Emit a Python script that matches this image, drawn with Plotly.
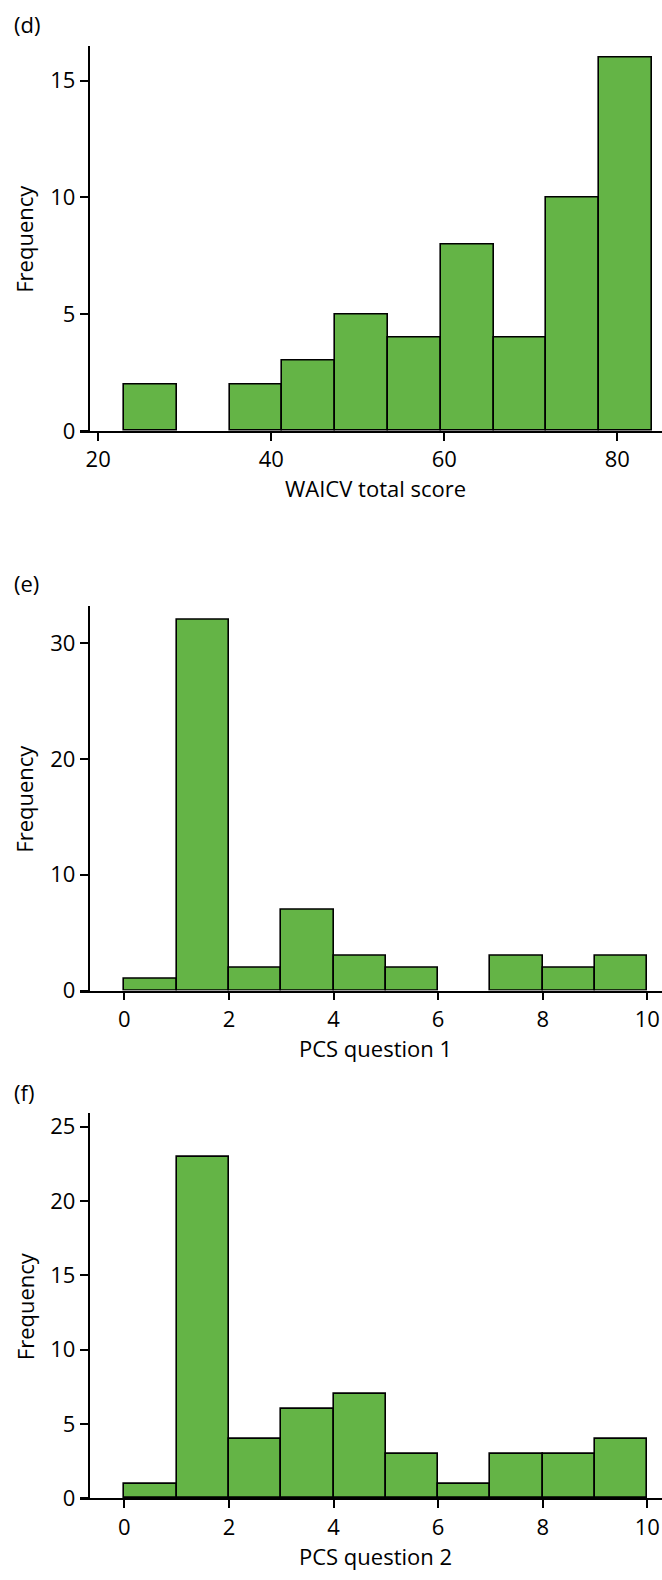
import plotly.graph_objects as go

# ---------------- data ----------------
d_edges = [23.0, 29.1, 35.2, 41.3, 47.4, 53.5, 59.6, 65.7, 71.8, 77.9, 84.0]
d_counts = [2, 0, 2, 3, 5, 4, 8, 4, 10, 16]

e_edges = [0, 1, 2, 3, 4, 5, 6, 7, 8, 9, 10]
e_counts = [1, 32, 2, 7, 3, 2, 0, 3, 2, 3]

f_edges = [0, 1, 2, 3, 4, 5, 6, 7, 8, 9, 10]
f_counts = [1, 23, 4, 6, 7, 3, 1, 3, 3, 4]

d_ticks = [20, 40, 60, 80]
d_yticks = [0, 5, 10, 15]
e_ticks = [0, 2, 4, 6, 8, 10]
e_yticks = [0, 10, 20, 30]
f_ticks = [0, 2, 4, 6, 8, 10]
f_yticks = [0, 5, 10, 15, 20, 25]

panel_labels = ["(d)", "(e)", "(f)"]
x_titles = ["WAICV total score", "PCS question 1", "PCS question 2"]
y_title = "Frequency"

# ---------------- style ----------------
W, H = 662, 1580
FONT = "Open Sans"
FS = 22
GREEN = "#64b446"

def px_x(p):
    return p / W

def px_y(p):
    return 1 - p / H

panels = [
    dict(edges=d_edges, counts=d_counts, xt=d_ticks, yt=d_yticks,
         xr=[17.9, 85.16], yr=[0, 16.5], top=44, bot=433.3, lab=22),
    dict(edges=e_edges, counts=e_counts, xt=e_ticks, yt=e_yticks,
         xr=[-0.849, 10.28], yr=[0, 33.2], top=610, bot=998.7, lab=587),
    dict(edges=f_edges, counts=f_counts, xt=f_ticks, yt=f_yticks,
         xr=[-0.849, 10.28], yr=[0, 25.93], top=1122.3, bot=1511.7, lab=1101.5),
]

fig = go.Figure()
layout = dict(width=W, height=H, margin=dict(l=0, r=0, t=0, b=0),
              plot_bgcolor="white", paper_bgcolor="white", showlegend=False,
              font=dict(family=FONT, size=FS, color="black"), bargap=0)
annotations = []

for i, p in enumerate(panels):
    n = "" if i == 0 else str(i + 1)
    edges = p["edges"]
    counts = p["counts"]
    idx = [k for k in range(len(counts)) if counts[k] > 0]
    mids = [(edges[k] + edges[k + 1]) / 2 for k in idx]
    widths = [edges[k + 1] - edges[k] for k in idx]
    vals = [counts[k] for k in idx]
    fig.add_trace(go.Bar(x=mids, y=vals, width=widths,
                         marker=dict(color=GREEN, line=dict(color="black", width=1.6)),
                         xaxis="x" + n, yaxis="y" + n, hoverinfo="skip"))
    layout["xaxis" + n] = dict(domain=[px_x(80), 1.0], range=p["xr"], anchor="y" + n,
                               showline=True, linecolor="black", linewidth=1.6,
                               ticks="outside", ticklen=8, tickwidth=1.6, tickcolor="black",
                               tickvals=p["xt"], showgrid=False, zeroline=False,
                               tickfont=dict(family=FONT, size=FS, color="black"))
    layout["yaxis" + n] = dict(domain=[px_y(p["bot"]), px_y(p["top"])], range=p["yr"],
                               anchor="free", position=px_x(88.5),
                               showline=True, linecolor="black", linewidth=1.6,
                               ticks="outside", ticklen=8, tickwidth=1.6, tickcolor="black",
                               tickvals=p["yt"], showgrid=False, zeroline=False,
                               tickfont=dict(family=FONT, size=FS, color="black"))
    annotations.append(dict(text=panel_labels[i], xref="paper", yref="paper",
                            x=px_x(12), y=px_y(p["lab"]),
                            xanchor="left", yanchor="middle", showarrow=False,
                            font=dict(family=FONT, size=FS, color="black")))
    annotations.append(dict(text=x_titles[i], xref="paper", yref="paper",
                            x=px_x(375), y=px_y(p["bot"] + 58),
                            xanchor="center", yanchor="middle", showarrow=False,
                            font=dict(family=FONT, size=FS, color="black")))
    annotations.append(dict(text=y_title, xref="paper", yref="paper",
                            x=px_x(24.5), y=px_y((p["top"] + p["bot"]) / 2),
                            xanchor="center", yanchor="middle", textangle=-90,
                            showarrow=False,
                            font=dict(family=FONT, size=FS, color="black")))

layout["annotations"] = annotations
fig.update_layout(**layout)
fig.write_html("out.html")
